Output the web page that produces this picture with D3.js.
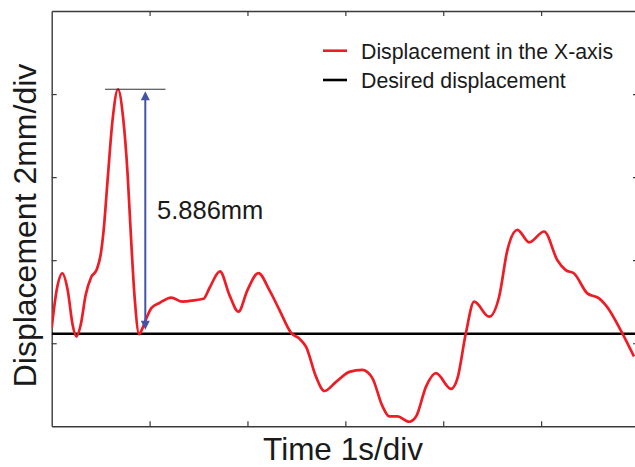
<!DOCTYPE html>
<html>
<head>
<meta charset="utf-8">
<script src="https://cdn.jsdelivr.net/npm/d3@7"></script>
<style>
  html, body { margin: 0; padding: 0; background: #fff; }
  svg { display: block; font-family: "Liberation Sans", Arial, sans-serif; }
</style>
</head>
<body>
<svg id="chart" width="635" height="467"></svg>
<script>
// Time axis (seconds) and measured X-axis displacement (mm)
const timeS = [
  0.000, 0.051, 0.109, 0.163, 0.214, 0.252, 0.296, 0.347, 0.403, 0.459,
  0.500, 0.531, 0.571, 0.622, 0.677, 0.730, 0.776, 0.806, 0.847, 0.893,
  0.929, 0.969, 1.020, 1.102, 1.221, 1.334, 1.469, 1.551, 1.612, 1.719,
  1.816, 1.908, 2.000, 2.112, 2.224, 2.327, 2.446, 2.531, 2.599, 2.701,
  2.786, 2.905, 3.041, 3.173, 3.276, 3.378, 3.449, 3.531, 3.653, 3.724,
  3.823, 3.926, 4.079, 4.146, 4.231, 4.316, 4.469, 4.571, 4.656, 4.758,
  4.878, 5.031, 5.166, 5.252, 5.337, 5.472, 5.592, 5.660, 5.830, 5.949
];
const displacementMm = [
  2.37, 3.28, 3.68, 3.28, 2.44, 2.16, 2.44, 3.16, 3.59, 3.77,
  4.13, 4.73, 5.93, 7.38, 8.116, 7.42, 6.05, 4.73, 3.11, 2.22,
  2.37, 2.61, 2.85, 2.97, 3.10, 3.00, 3.04, 3.07, 3.33, 3.73,
  3.16, 2.76, 3.28, 3.69, 3.28, 2.80, 2.25, 2.11, 1.91, 1.19,
  0.85, 1.07, 1.31, 1.36, 1.16, 0.49, 0.24, 0.24, 0.11, 0.24,
  0.95, 1.28, 0.90, 1.16, 2.24, 3.00, 2.64, 3.12, 4.25, 4.73,
  4.43, 4.69, 4.00, 3.76, 3.68, 3.20, 3.08, 2.92, 2.24, 1.68
];
const desiredMm = 2.23;
const peakGapMm = 5.886;
const peakGapLabel = "5.886mm";

const xTicks = [1, 2, 3, 4, 5];
const yTicks = [2, 4, 6, 8];
const legendLabels = ["Displacement in the X-axis", "Desired displacement"];
const xTitle = "Time 1s/div";
const yTitle = "Displacement 2mm/div";

const svg = d3.select("#chart");
const W = 635, H = 467;
const plotLeft = 51.7, plotRight = 639, plotTop = 11, plotBottom = 426.3;

const x = d3.scaleLinear().domain([0, 6]).range([plotLeft, plotRight]);
const y = d3.scaleLinear().domain([0, 10]).range([plotBottom, plotTop]);

svg.append("defs").append("clipPath").attr("id", "plotClip")
  .append("rect").attr("x", plotLeft).attr("y", plotTop)
  .attr("width", W - plotLeft).attr("height", plotBottom - plotTop);

const axisColor = "#3a3a3a";
function styleAxis(g) {
  g.selectAll("path").attr("stroke", axisColor).attr("stroke-width", 1.4);
  g.selectAll("line").attr("stroke", axisColor).attr("stroke-width", 1.2);
  g.selectAll("text").remove();
}

// Box frame with inward ticks
svg.append("g").attr("transform", `translate(0,${plotBottom})`)
  .call(d3.axisBottom(x).tickValues(xTicks).tickSizeInner(-5).tickSizeOuter(0))
  .call(styleAxis);
svg.append("g").attr("transform", `translate(0,${plotTop})`)
  .call(d3.axisTop(x).tickValues(xTicks).tickSizeInner(-5).tickSizeOuter(0))
  .call(styleAxis);
svg.append("g").attr("transform", `translate(${plotLeft},0)`)
  .call(d3.axisLeft(y).tickValues(yTicks).tickSizeInner(-5).tickSizeOuter(0))
  .call(styleAxis);
svg.append("g").attr("transform", `translate(${plotRight},0)`)
  .call(d3.axisRight(y).tickValues(yTicks).tickSizeInner(-6).tickSizeOuter(0))
  .call(styleAxis);

const plot = svg.append("g").attr("clip-path", "url(#plotClip)");

// Desired displacement reference
plot.append("line")
  .attr("x1", plotLeft).attr("x2", W)
  .attr("y1", y(desiredMm)).attr("y2", y(desiredMm))
  .attr("stroke", "#000").attr("stroke-width", 2.6);

// Measured displacement
const series = timeS.map((t, i) => [t, displacementMm[i]]);
const line = d3.line()
  .x(d => x(d[0])).y(d => y(d[1]))
  .curve(d3.curveMonotoneX);
plot.append("path").datum(series)
  .attr("d", line)
  .attr("fill", "none")
  .attr("stroke", "#ee1c24")
  .attr("stroke-width", 2.7)
  .attr("stroke-linejoin", "round");

// Peak marker and gap annotation
const peakY = y(desiredMm + peakGapMm);
svg.append("line")
  .attr("x1", 105).attr("x2", 165.5)
  .attr("y1", peakY).attr("y2", peakY)
  .attr("stroke", "#333").attr("stroke-width", 1.2);

const arrowX = 145.3, blue = "#4353a8";
const yTopTip = peakY + 2, yBotTip = y(desiredMm) - 4;
svg.append("line")
  .attr("x1", arrowX).attr("x2", arrowX)
  .attr("y1", yTopTip + 6).attr("y2", yBotTip - 6)
  .attr("stroke", blue).attr("stroke-width", 2);
svg.append("path")
  .attr("d", `M${arrowX},${yTopTip} L${arrowX - 4.5},${yTopTip + 9} L${arrowX + 4.5},${yTopTip + 9} Z`)
  .attr("fill", blue);
svg.append("path")
  .attr("d", `M${arrowX},${yBotTip} L${arrowX - 4.5},${yBotTip - 9} L${arrowX + 4.5},${yBotTip - 9} Z`)
  .attr("fill", blue);
svg.append("text")
  .attr("x", 157).attr("y", 218.5)
  .attr("font-size", 25.5).attr("fill", "#1a1a1a")
  .text(peakGapLabel);

// Legend
const legendColors = ["#ee1c24", "#000"];
const legend = svg.append("g");
legendLabels.forEach((lab, i) => {
  const cy = 50.7 + i * 29.3;
  legend.append("line")
    .attr("x1", 323).attr("x2", 347)
    .attr("y1", cy).attr("y2", cy)
    .attr("stroke", legendColors[i]).attr("stroke-width", 2.6);
  legend.append("text")
    .attr("x", 361).attr("y", cy + 7.8)
    .attr("font-size", 21.3).attr("fill", "#1a1a1a")
    .text(lab);
});

// Axis titles
svg.append("text")
  .attr("x", 343).attr("y", 459.5)
  .attr("text-anchor", "middle")
  .attr("font-size", 31.5).attr("fill", "#1a1a1a")
  .text(xTitle);
svg.append("text")
  .attr("transform", "translate(36,225.5) rotate(-90)")
  .attr("text-anchor", "middle")
  .attr("font-size", 32).attr("fill", "#1a1a1a")
  .text(yTitle);
</script>
</body>
</html>
